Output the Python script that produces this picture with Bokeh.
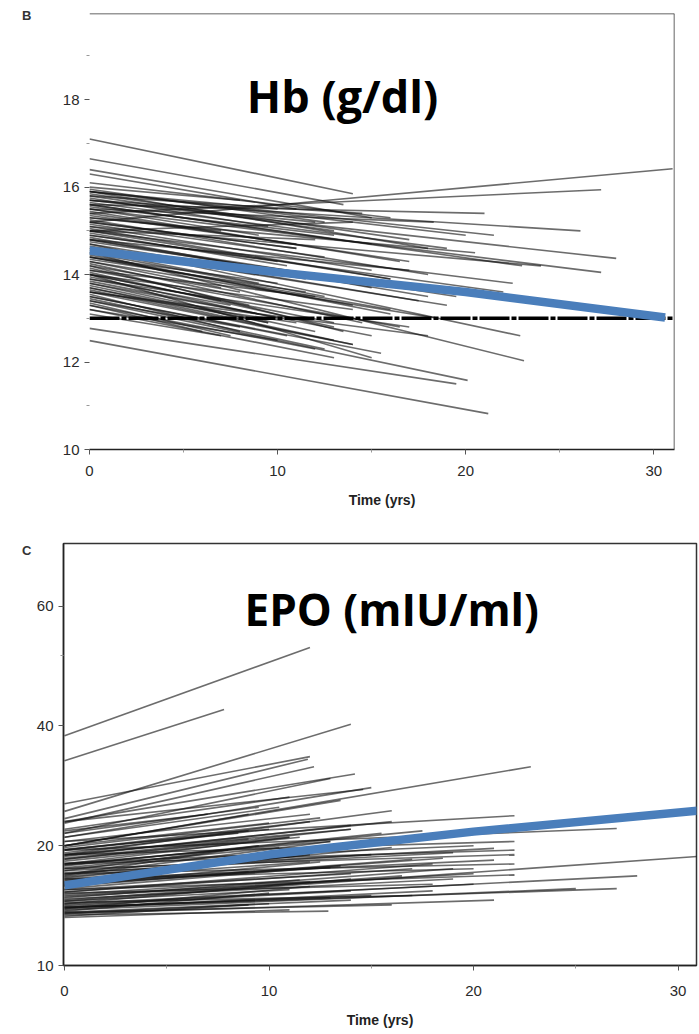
from bokeh.plotting import figure
from bokeh.models import (ColumnDataSource, Label, Span, FixedTicker,
                          LinearAxis, Range1d, LinearScale)
from bokeh.embed import file_html
from bokeh.resources import INLINE

# ---------------- Panel B : Hb (g/dl) ----------------
hb_start = [17.1, 16.65, 16.4, 16.3, 16.1, 16.0, 15.9, 15.8, 15.2, 15.4,
            15.7, 15.6, 15.5, 15.7, 15.5, 15.3, 15.9, 15.1, 15.0, 14.9,
            14.8, 14.7, 14.6, 14.5, 14.4, 14.3, 14.0, 14.1, 14.0, 13.9,
            13.8, 13.7, 13.6, 13.5, 13.4, 13.3, 13.2, 12.77, 12.49, 15.95,
            15.85, 15.75, 15.65, 15.55, 15.45, 15.35, 15.25, 15.15, 15.05, 14.95,
            14.85, 14.75, 14.65, 14.55, 14.45, 14.35, 14.25, 14.15, 14.05, 13.95,
            13.85, 13.75, 13.65, 13.55, 13.45, 13.35, 15.6, 15.2, 14.8, 14.4,
            14.0, 13.6, 15.9, 15.0, 14.2,
            15.8, 15.6, 15.4, 15.2, 15.0, 14.8, 14.6, 14.4, 14.2, 14.0,
            13.8, 13.6, 13.4, 13.2, 13.1, 15.9, 15.7, 15.5, 15.3, 15.1,
            14.9, 14.7, 14.5, 14.3, 14.1, 13.9, 13.7, 13.5, 13.3, 15.0]
hb_end = [15.85, 15.6, 15.3, 15.5, 15.3, 15.7, 14.9, 15.4, 16.42, 15.94,
          15.0, 15.4, 15.2, 14.37, 14.05, 14.5, 14.6, 14.2, 14.8, 13.6,
          14.1, 12.6, 13.3, 12.03, 13.8, 13.0, 12.1, 13.5, 13.2, 12.8,
          13.1, 12.5, 12.9, 12.2, 11.58, 12.3, 12.5, 11.5, 10.82, 15.2,
          14.8, 15.1, 14.6, 14.9, 14.3, 14.7, 14.0, 14.4, 13.9, 14.2,
          13.7, 14.0, 13.4, 13.8, 13.1, 13.6, 12.9, 13.3, 12.8, 13.0,
          12.6, 12.9, 12.4, 12.7, 12.3, 12.6, 14.2, 14.6, 13.5, 13.2,
          13.4, 12.6, 14.9, 13.8, 12.7,
          15.0, 14.7, 14.3, 14.6, 13.9, 13.5, 14.0, 13.3, 13.6, 12.9,
          12.7, 12.4, 12.8, 12.1, 12.6, 15.5, 15.2, 14.9, 15.0, 14.1,
          14.3, 13.9, 13.5, 13.7, 12.8, 13.3, 12.9, 12.6, 12.7, 15.2]
hb_tend = [14.0, 13.5, 15.0, 11.0, 16.0, 8.0, 20.0, 14.5, 31.0, 27.2,
           26.1, 21.0, 18.3, 28.0, 27.2, 20.5, 18.0, 24.0, 12.0, 22.0,
           17.0, 22.9, 19.0, 23.1, 10.0, 18.5, 15.0, 12.0, 14.0, 17.0,
           9.0, 13.0, 11.0, 15.5, 20.1, 12.0, 10.0, 19.5, 21.2, 12.5,
           17.0, 9.5, 19.0, 13.0, 16.5, 11.0, 18.0, 12.5, 16.0, 10.5,
           15.0, 12.0, 17.5, 9.0, 16.0, 11.5, 14.5, 8.5, 13.0, 10.0,
           15.0, 9.5, 14.0, 8.0, 12.5, 7.5, 23.0, 11.0, 19.5, 16.0,
           7.0, 18.0, 21.5, 22.5, 13.5,
           13.0, 15.0, 17.0, 11.0, 16.0, 18.0, 9.0, 14.0, 8.0, 13.0,
           12.0, 14.0, 8.0, 13.0, 7.0, 10.0, 12.0, 9.0, 7.0, 15.0,
           10.0, 11.5, 12.5, 7.0, 16.5, 7.5, 9.5, 10.5, 6.0, 14.0]
hb_ref_level = [13.0, 13.0]
hb_ref_time = [0.0, 31.1]
hb_mean_time = [0.0, 10.0, 20.0, 30.6]
hb_mean = [14.55, 14.05, 13.6, 13.02]
hb_yticks = [10, 12, 14, 16, 18]

# ---------------- Panel C : EPO (mIU/ml) ----------------
epo_start = [37.8, 32.7, 24.4, 25.5, 23.4, 22.8, 23.0, 23.0, 20.0, 21.5,
             21.0, 20.5, 20.0, 19.5, 21.0, 20.0, 19.5, 19.0, 18.5, 18.0,
             19.0, 18.0, 17.5, 17.0, 16.5, 14.5, 14.2, 14.0, 13.8, 13.5,
             13.4, 13.6, 14.0, 19.8, 19.2, 18.8, 18.3, 17.8, 17.3, 16.8,
             16.3, 15.8, 15.3, 14.8, 14.3, 13.9, 19.6, 18.6, 17.6, 16.6,
             15.6, 14.6, 13.7, 18.9, 17.9, 16.9, 15.9, 14.9, 16.1, 15.1,
             17.1, 18.1, 15.5, 14.1, 13.3, 16.4, 15.2, 14.4,
             14.0, 14.5, 15.0, 15.5, 16.0, 16.5, 17.0, 17.5, 18.0, 18.5,
             19.0, 19.5, 20.0, 20.5, 13.6, 13.9, 14.3, 14.7, 15.3, 15.9,
             16.7, 17.3, 13.2, 13.5, 21.5, 22.0, 21.8]
epo_end = [63.0, 44.0, 40.4, 33.5, 33.0, 31.6, 30.3, 27.7, 31.6, 29.5,
           28.0, 23.8, 26.0, 22.1, 25.0, 24.0, 23.0, 24.5, 22.0, 21.0,
           20.5, 19.5, 19.0, 18.0, 17.5, 18.8, 16.8, 15.6, 15.6, 14.6,
           13.7, 14.2, 15.0, 23.5, 22.0, 22.5, 21.0, 21.5, 20.0, 20.5,
           19.0, 18.5, 18.0, 17.5, 16.5, 15.8, 21.5, 20.8, 19.8, 18.8,
           17.8, 16.8, 15.2, 23.0, 21.8, 19.5, 18.2, 17.0, 17.2, 16.4,
           19.2, 20.0, 16.9, 15.4, 14.2, 18.4, 16.0, 15.0,
           14.8, 15.5, 16.2, 17.0, 17.6, 18.2, 19.0, 19.5, 20.5, 21.0,
           22.0, 21.8, 22.8, 24.0, 14.6, 15.4, 16.0, 16.5, 17.5, 18.6,
           19.8, 19.7, 13.8, 14.3, 25.0, 26.5, 24.0]
epo_tend = [12.0, 7.8, 14.0, 12.0, 11.9, 12.2, 14.2, 14.6, 22.8, 13.0,
            15.0, 22.0, 13.5, 27.0, 10.5, 9.0, 12.0, 16.0, 14.0, 11.0,
            22.0, 22.0, 22.0, 22.0, 20.0, 31.0, 28.0, 27.0, 25.0, 21.0,
            12.9, 16.0, 15.0, 12.5, 10.0, 14.0, 11.5, 15.5, 9.5, 13.0,
            12.0, 17.0, 18.0, 19.0, 14.0, 12.0, 8.5, 9.0, 10.5, 11.0,
            13.5, 16.5, 10.0, 16.0, 17.5, 8.0, 12.5, 20.0, 9.0, 11.5,
            19.0, 20.0, 22.0, 14.0, 9.0, 21.0, 18.0, 17.0,
            13.0, 11.0, 12.0, 14.0, 13.0, 12.0, 15.0, 12.0, 13.0, 11.0,
            14.0, 9.0, 10.0, 12.0, 14.0, 18.0, 20.0, 19.0, 17.0, 18.5,
            16.0, 21.0, 11.0, 10.0, 9.5, 11.0, 7.0]
epo_mean_time = [0.0, 10.0, 20.0, 31.0]
epo_mean = [15.9, 19.0, 21.7, 24.5]
epo_yticks = [10, 20, 40, 80]
epo_ytick_text = {80: "60"}

xticks = [0, 10, 20, 30]
xminor = [5, 15, 25]

LINE_COL = "#111111"
BLUE = "#4a7ebb"
TICK_FONT = "Liberation Sans"
TITLE_FONT = "Open Sans"


def style_axes(p, xstand, xlabstand):
    for ax in (p.xaxis[0], p.yaxis[0]):
        ax.major_label_text_font = TICK_FONT
        ax.major_label_text_font_size = "15px"
        ax.major_label_text_color = "#2a2a2a"
        ax.major_tick_out = 5
        ax.major_tick_in = 0
        ax.minor_tick_out = 3
        ax.minor_tick_in = 0
        ax.major_tick_line_color = "#555555"
        ax.minor_tick_line_color = "#999999"
        ax.axis_line_color = "#222222"
        ax.axis_line_width = 1.5
    p.xaxis[0].major_label_standoff = xstand
    p.xaxis[0].axis_label = "Time (yrs)"
    p.xaxis[0].axis_label_text_font = TICK_FONT
    p.xaxis[0].axis_label_text_font_style = "bold"
    p.xaxis[0].axis_label_text_font_size = "14px"
    p.xaxis[0].axis_label_text_color = "#222222"
    p.xaxis[0].axis_label_standoff = xlabstand
    p.grid.visible = False
    p.background_fill_color = "white"
    p.border_fill_color = "white"


def panel_letter(p, letter, frac, standoff):
    p.extra_y_ranges = {"letter": Range1d(0, 1)}
    p.extra_y_scales = {"letter": LinearScale()}
    ax = LinearAxis(y_range_name="letter", ticker=FixedTicker(ticks=[frac]),
                    major_label_overrides={frac: letter})
    ax.axis_line_color = None
    ax.major_tick_line_color = None
    ax.minor_tick_line_color = None
    ax.major_tick_out = 0
    ax.major_tick_in = 0
    ax.minor_tick_out = 0
    ax.minor_tick_in = 0
    ax.major_label_standoff = standoff
    ax.major_label_text_font = TICK_FONT
    ax.major_label_text_font_style = "bold"
    ax.major_label_text_font_size = "13px"
    ax.major_label_text_color = "#333333"
    p.add_layout(ax, "left")


def trajectories(starts, ends, tends):
    return ColumnDataSource(dict(
        xs=[[0.0, t] for t in tends],
        ys=[[a, b] for a, b in zip(starts, ends)]))


# ---------- figure B ----------
pB = figure(width=699, height=518, x_range=(0, 31.1), y_range=(10, 19.97),
            output_backend="svg", toolbar_location=None,
            min_border_left=89, min_border_right=25, min_border_top=13,
            min_border_bottom=69)
style_axes(pB, 11, 13)
pB.outline_line_color = None
pB.yaxis[0].axis_line_color = None
pB.xaxis[0].ticker = FixedTicker(ticks=xticks, minor_ticks=xminor)
pB.yaxis[0].ticker = FixedTicker(ticks=hb_yticks, minor_ticks=[11, 13, 15, 17, 19])
panel_letter(pB, "B", 0.995, 28)

pB.multi_line("xs", "ys", source=trajectories(hb_start, hb_end, hb_tend),
              line_color=LINE_COL, line_alpha=0.62, line_width=1.6)
pB.line(hb_ref_time, hb_ref_level, line_color="black", line_width=3.5,
        line_dash="30 2 5 2")
pB.line(hb_mean_time, hb_mean, line_color=BLUE, line_width=8.5)
pB.add_layout(Span(location=19.97, dimension="width", line_color="#333333",
                   line_width=1.5))
pB.add_layout(Span(location=31.1, dimension="height", line_color="#333333",
                   line_width=1.5))
pB.add_layout(Label(x=13.45, y=18.09, text="Hb (g/dl)", text_align="center",
                    text_baseline="alphabetic", text_font=TITLE_FONT,
                    text_font_style="bold", text_font_size="45px",
                    text_color="black"))

# ---------- figure C ----------
pC = figure(width=699, height=512, x_range=(-0.05, 30.9), y_range=(10, 115),
            y_axis_type="log", output_backend="svg", toolbar_location=None,
            min_border_left=63, min_border_right=3, min_border_top=25,
            min_border_bottom=62)
style_axes(pC, 15, 13)
pC.outline_line_color = "#333333"
pC.outline_line_width = 1.5
pC.xaxis[0].ticker = FixedTicker(ticks=xticks, minor_ticks=xminor)
pC.yaxis[0].ticker = FixedTicker(ticks=epo_yticks, minor_ticks=[60])
pC.yaxis[0].major_label_overrides = epo_ytick_text
panel_letter(pC, "C", 0.984, 2)

pC.multi_line("xs", "ys", source=trajectories(epo_start, epo_end, epo_tend),
              line_color=LINE_COL, line_alpha=0.62, line_width=1.6)
pC.line(epo_mean_time, epo_mean, line_color=BLUE, line_width=8.5)
pC.add_layout(Label(x=16.0, y=78.9, text="EPO (mIU/ml)", text_align="center",
                    text_baseline="alphabetic", text_font=TITLE_FONT,
                    text_font_style="bold", text_font_size="44px",
                    text_color="black"))

open("out.html", "w").write(file_html([pB, pC], INLINE))
